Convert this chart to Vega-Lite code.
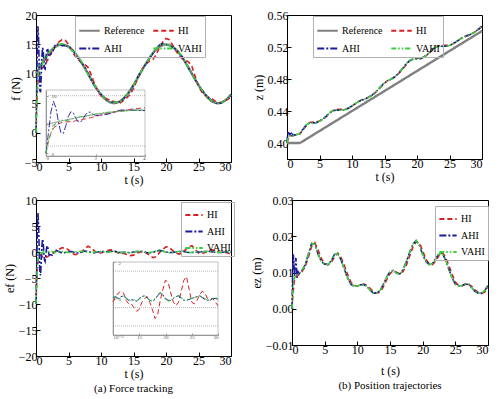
{
"$schema":"https://vega.github.io/schema/vega-lite/v6.json",
"padding":{"left":2,"top":8,"right":5,"bottom":5},
"config":{
 "font":"Liberation Serif",
 "view":{"stroke":"black","strokeWidth":1},
 "axis":{"grid":false,"labelFont":"Liberation Serif","titleFont":"Liberation Serif","labelFontSize":12,"titleFontSize":12,"titleFontWeight":"normal","labelColor":"black","titleColor":"black","domainColor":"black","tickColor":"black","tickSize":-4,"labelPadding":3,"titlePadding":2},
 "legend":{"labelFont":"Liberation Serif","labelFontSize":10,"labelColor":"black","symbolStrokeWidth":1.8,"symbolType":"stroke"},
 "title":{"font":"Liberation Serif","fontWeight":"normal","fontSize":11,"color":"black"}
},
"datasets":{
 "force":[
  {"t":0,"Reference":10,"HI":0,"AHI":0,"VAHI":0},
  {"t":0.1,"Reference":10.20,"HI":4.20,"AHI":7.20,"VAHI":4.20},
  {"t":0.2,"Reference":10.39,"HI":6.89,"AHI":14.39,"VAHI":7.39},
  {"t":0.3,"Reference":10.59,"HI":8.59,"AHI":18.09,"VAHI":9.39},
  {"t":0.4,"Reference":10.78,"HI":9.58,"AHI":15.78,"VAHI":10.48},
  {"t":0.5,"Reference":10.98,"HI":10.18,"AHI":10.98,"VAHI":11.18},
  {"t":0.6,"Reference":11.17,"HI":10.57,"AHI":7.17,"VAHI":11.47},
  {"t":0.7,"Reference":11.36,"HI":10.76,"AHI":6.86,"VAHI":11.46},
  {"t":0.8,"Reference":11.55,"HI":10.85,"AHI":9.55,"VAHI":11.35},
  {"t":0.9,"Reference":11.73,"HI":10.93,"AHI":12.73,"VAHI":11.43},
  {"t":1.0,"Reference":11.91,"HI":11.01,"AHI":14.41,"VAHI":11.71},
  {"t":1.1,"Reference":12.09,"HI":11.09,"AHI":14.09,"VAHI":12.09},
  {"t":1.2,"Reference":12.27,"HI":11.27,"AHI":12.27,"VAHI":12.47},
  {"t":1.3,"Reference":12.44,"HI":11.34,"AHI":10.94,"VAHI":12.64},
  {"t":1.4,"Reference":12.61,"HI":11.51,"AHI":10.81,"VAHI":12.71},
  {"t":1.5,"Reference":12.78,"HI":11.78,"AHI":11.98,"VAHI":12.68},
  {"t":1.6,"Reference":12.94,"HI":11.94,"AHI":13.44,"VAHI":12.74},
  {"t":1.7,"Reference":13.10,"HI":12.20,"AHI":14.30,"VAHI":13.00},
  {"t":1.8,"Reference":13.25,"HI":12.35,"AHI":14.25,"VAHI":13.25},
  {"t":1.9,"Reference":13.39,"HI":12.59,"AHI":13.59,"VAHI":13.49},
  {"t":2.0,"Reference":13.54,"HI":12.84,"AHI":13.04,"VAHI":13.64},
  {"t":2.5,"Reference":14.16,"HI":13.86,"AHI":13.56,"VAHI":14.26},
  {"t":3,"Reference":14.62,"HI":14.72,"AHI":15.02,"VAHI":14.52},
  {"t":3.5,"Reference":14.90,"HI":15.40,"AHI":15.00,"VAHI":14.95},
  {"t":4,"Reference":15.00,"HI":15.80,"AHI":14.80,"VAHI":15.10},
  {"t":4.5,"Reference":14.90,"HI":15.70,"AHI":14.80,"VAHI":14.90},
  {"t":5,"Reference":14.62,"HI":15.02,"AHI":14.62,"VAHI":14.52},
  {"t":5.5,"Reference":14.16,"HI":13.96,"AHI":14.26,"VAHI":14.01},
  {"t":6,"Reference":13.54,"HI":13.04,"AHI":13.44,"VAHI":13.54},
  {"t":6.5,"Reference":12.78,"HI":12.38,"AHI":12.58,"VAHI":12.88},
  {"t":7,"Reference":11.91,"HI":11.91,"AHI":11.91,"VAHI":12.06},
  {"t":7.5,"Reference":10.98,"HI":11.58,"AHI":11.18,"VAHI":11.03},
  {"t":8,"Reference":10.00,"HI":11.10,"AHI":10.10,"VAHI":9.95},
  {"t":8.5,"Reference":9.02,"HI":9.82,"AHI":8.92,"VAHI":8.92},
  {"t":9,"Reference":8.09,"HI":8.29,"AHI":7.94,"VAHI":8.09},
  {"t":9.5,"Reference":7.22,"HI":7.02,"AHI":7.22,"VAHI":7.27},
  {"t":10,"Reference":6.46,"HI":6.26,"AHI":6.51,"VAHI":6.56},
  {"t":10.5,"Reference":5.84,"HI":5.94,"AHI":5.94,"VAHI":5.89},
  {"t":11,"Reference":5.38,"HI":5.68,"AHI":5.38,"VAHI":5.33},
  {"t":11.5,"Reference":5.10,"HI":5.50,"AHI":5.20,"VAHI":5.15},
  {"t":12,"Reference":5.00,"HI":5.30,"AHI":5.15,"VAHI":5.15},
  {"t":12.5,"Reference":5.10,"HI":5.00,"AHI":5.10,"VAHI":5.15},
  {"t":13,"Reference":5.38,"HI":5.08,"AHI":5.28,"VAHI":5.28},
  {"t":13.5,"Reference":5.84,"HI":5.54,"AHI":5.79,"VAHI":5.74},
  {"t":14,"Reference":6.46,"HI":5.96,"AHI":6.36,"VAHI":6.41},
  {"t":14.5,"Reference":7.22,"HI":6.52,"AHI":7.07,"VAHI":7.07},
  {"t":15,"Reference":8.09,"HI":7.49,"AHI":8.09,"VAHI":8.04},
  {"t":15.5,"Reference":9.02,"HI":8.82,"AHI":9.12,"VAHI":9.12},
  {"t":16,"Reference":10.00,"HI":10.00,"AHI":10.15,"VAHI":10.15},
  {"t":16.5,"Reference":10.98,"HI":11.08,"AHI":11.03,"VAHI":10.98},
  {"t":17,"Reference":11.91,"HI":11.71,"AHI":11.81,"VAHI":11.81},
  {"t":17.5,"Reference":12.78,"HI":12.18,"AHI":12.63,"VAHI":12.68},
  {"t":18,"Reference":13.54,"HI":12.44,"AHI":13.49,"VAHI":13.54},
  {"t":18.5,"Reference":14.16,"HI":13.26,"AHI":14.31,"VAHI":14.36},
  {"t":19,"Reference":14.62,"HI":14.52,"AHI":14.92,"VAHI":14.97},
  {"t":19.5,"Reference":14.90,"HI":15.40,"AHI":15.10,"VAHI":15.05},
  {"t":20,"Reference":15.00,"HI":16.00,"AHI":15.00,"VAHI":14.95},
  {"t":20.5,"Reference":14.90,"HI":15.80,"AHI":14.80,"VAHI":14.75},
  {"t":21,"Reference":14.62,"HI":14.92,"AHI":14.52,"VAHI":14.52},
  {"t":21.5,"Reference":14.16,"HI":13.96,"AHI":14.16,"VAHI":14.21},
  {"t":22,"Reference":13.54,"HI":13.14,"AHI":13.64,"VAHI":13.64},
  {"t":22.5,"Reference":12.78,"HI":12.58,"AHI":12.93,"VAHI":12.98},
  {"t":23,"Reference":11.91,"HI":12.31,"AHI":11.91,"VAHI":11.96},
  {"t":23.5,"Reference":10.98,"HI":11.98,"AHI":10.88,"VAHI":10.88},
  {"t":24,"Reference":10.00,"HI":11.20,"AHI":9.90,"VAHI":9.90},
  {"t":24.5,"Reference":9.02,"HI":9.52,"AHI":8.97,"VAHI":9.02},
  {"t":25,"Reference":8.09,"HI":7.89,"AHI":8.09,"VAHI":8.09},
  {"t":25.5,"Reference":7.22,"HI":6.92,"AHI":7.27,"VAHI":7.27},
  {"t":26,"Reference":6.46,"HI":6.36,"AHI":6.56,"VAHI":6.56},
  {"t":26.5,"Reference":5.84,"HI":6.04,"AHI":5.99,"VAHI":5.99},
  {"t":27,"Reference":5.38,"HI":5.78,"AHI":5.43,"VAHI":5.48},
  {"t":27.5,"Reference":5.10,"HI":5.40,"AHI":5.05,"VAHI":5.10},
  {"t":28,"Reference":5.00,"HI":5.00,"AHI":4.90,"VAHI":4.90},
  {"t":28.5,"Reference":5.10,"HI":5.00,"AHI":5.05,"VAHI":5.00},
  {"t":29,"Reference":5.38,"HI":5.38,"AHI":5.38,"VAHI":5.38},
  {"t":29.5,"Reference":5.84,"HI":5.64,"AHI":5.84,"VAHI":5.89},
  {"t":30,"Reference":6.46,"HI":6.06,"AHI":6.41,"VAHI":6.46}
 ],
 "forceErr":[
  {"t":0,"HI":-10,"AHI":-10,"VAHI":-10},
  {"t":0.1,"HI":-6,"AHI":-3,"VAHI":-6},
  {"t":0.2,"HI":-3.5,"AHI":4,"VAHI":-3},
  {"t":0.3,"HI":-2,"AHI":7.5,"VAHI":-1.2},
  {"t":0.4,"HI":-1.2,"AHI":5,"VAHI":-0.3},
  {"t":0.5,"HI":-0.8,"AHI":0,"VAHI":0.2},
  {"t":0.6,"HI":-0.6,"AHI":-4,"VAHI":0.3},
  {"t":0.7,"HI":-0.6,"AHI":-4.5,"VAHI":0.1},
  {"t":0.8,"HI":-0.7,"AHI":-2,"VAHI":-0.2},
  {"t":0.9,"HI":-0.8,"AHI":1,"VAHI":-0.3},
  {"t":1.0,"HI":-0.9,"AHI":2.5,"VAHI":-0.2},
  {"t":1.1,"HI":-1.0,"AHI":2,"VAHI":0},
  {"t":1.2,"HI":-1.0,"AHI":0,"VAHI":0.2},
  {"t":1.3,"HI":-1.1,"AHI":-1.5,"VAHI":0.2},
  {"t":1.4,"HI":-1.1,"AHI":-1.8,"VAHI":0.1},
  {"t":1.5,"HI":-1.0,"AHI":-0.8,"VAHI":-0.1},
  {"t":1.6,"HI":-1.0,"AHI":0.5,"VAHI":-0.2},
  {"t":1.7,"HI":-0.9,"AHI":1.2,"VAHI":-0.1},
  {"t":1.8,"HI":-0.9,"AHI":1.0,"VAHI":0},
  {"t":1.9,"HI":-0.8,"AHI":0.2,"VAHI":0.1},
  {"t":2.0,"HI":-0.7,"AHI":-0.5,"VAHI":0.1},
  {"t":2.5,"HI":-0.3,"AHI":-0.6,"VAHI":0.1},
  {"t":3,"HI":0.1,"AHI":0.4,"VAHI":-0.1},
  {"t":3.5,"HI":0.5,"AHI":0.1,"VAHI":0.05},
  {"t":4,"HI":0.8,"AHI":-0.2,"VAHI":0.1},
  {"t":4.5,"HI":0.8,"AHI":-0.1,"VAHI":0},
  {"t":5,"HI":0.4,"AHI":0,"VAHI":-0.1},
  {"t":5.5,"HI":-0.2,"AHI":0.1,"VAHI":-0.15},
  {"t":6,"HI":-0.5,"AHI":-0.1,"VAHI":0},
  {"t":6.5,"HI":-0.4,"AHI":-0.2,"VAHI":0.1},
  {"t":7,"HI":0,"AHI":0,"VAHI":0.15},
  {"t":7.5,"HI":0.6,"AHI":0.2,"VAHI":0.05},
  {"t":8,"HI":1.1,"AHI":0.1,"VAHI":-0.05},
  {"t":8.5,"HI":0.8,"AHI":-0.1,"VAHI":-0.1},
  {"t":9,"HI":0.2,"AHI":-0.15,"VAHI":0},
  {"t":9.5,"HI":-0.2,"AHI":0,"VAHI":0.05},
  {"t":10,"HI":-0.2,"AHI":0.05,"VAHI":0.1},
  {"t":10.5,"HI":0.1,"AHI":0.1,"VAHI":0.05},
  {"t":11,"HI":0.3,"AHI":0,"VAHI":-0.05},
  {"t":11.5,"HI":0.4,"AHI":0.1,"VAHI":0.05},
  {"t":12,"HI":0.3,"AHI":0.15,"VAHI":0.15},
  {"t":12.5,"HI":-0.1,"AHI":0,"VAHI":0.05},
  {"t":13,"HI":-0.3,"AHI":-0.1,"VAHI":-0.1},
  {"t":13.5,"HI":-0.3,"AHI":-0.05,"VAHI":-0.1},
  {"t":14,"HI":-0.5,"AHI":-0.1,"VAHI":-0.05},
  {"t":14.5,"HI":-0.7,"AHI":-0.15,"VAHI":-0.15},
  {"t":15,"HI":-0.6,"AHI":0,"VAHI":-0.05},
  {"t":15.5,"HI":-0.2,"AHI":0.1,"VAHI":0.1},
  {"t":16,"HI":0,"AHI":0.15,"VAHI":0.15},
  {"t":16.5,"HI":0.1,"AHI":0.05,"VAHI":0},
  {"t":17,"HI":-0.2,"AHI":-0.1,"VAHI":-0.1},
  {"t":17.5,"HI":-0.6,"AHI":-0.15,"VAHI":-0.1},
  {"t":18,"HI":-1.1,"AHI":-0.05,"VAHI":0},
  {"t":18.5,"HI":-0.9,"AHI":0.15,"VAHI":0.2},
  {"t":19,"HI":-0.1,"AHI":0.3,"VAHI":0.35},
  {"t":19.5,"HI":0.5,"AHI":0.2,"VAHI":0.15},
  {"t":20,"HI":1.0,"AHI":0,"VAHI":-0.05},
  {"t":20.5,"HI":0.9,"AHI":-0.1,"VAHI":-0.15},
  {"t":21,"HI":0.3,"AHI":-0.1,"VAHI":-0.1},
  {"t":21.5,"HI":-0.2,"AHI":0,"VAHI":0.05},
  {"t":22,"HI":-0.4,"AHI":0.1,"VAHI":0.1},
  {"t":22.5,"HI":-0.2,"AHI":0.15,"VAHI":0.2},
  {"t":23,"HI":0.4,"AHI":0,"VAHI":0.05},
  {"t":23.5,"HI":1.0,"AHI":-0.1,"VAHI":-0.1},
  {"t":24,"HI":1.2,"AHI":-0.1,"VAHI":-0.1},
  {"t":24.5,"HI":0.5,"AHI":-0.05,"VAHI":0},
  {"t":25,"HI":-0.2,"AHI":0,"VAHI":0},
  {"t":25.5,"HI":-0.3,"AHI":0.05,"VAHI":0.05},
  {"t":26,"HI":-0.1,"AHI":0.1,"VAHI":0.1},
  {"t":26.5,"HI":0.2,"AHI":0.15,"VAHI":0.15},
  {"t":27,"HI":0.4,"AHI":0.05,"VAHI":0.1},
  {"t":27.5,"HI":0.3,"AHI":-0.05,"VAHI":0},
  {"t":28,"HI":0,"AHI":-0.1,"VAHI":-0.1},
  {"t":28.5,"HI":-0.1,"AHI":-0.05,"VAHI":-0.1},
  {"t":29,"HI":0,"AHI":0,"VAHI":0},
  {"t":29.5,"HI":-0.2,"AHI":0,"VAHI":0.05},
  {"t":30,"HI":-0.4,"AHI":-0.05,"VAHI":0}
 ],
 "pos":[
  {"t":0,"Reference":0.40,"HI":0.400,"AHI":0.400,"VAHI":0.400},
  {"t":0.1,"Reference":0.40,"HI":0.403,"AHI":0.410,"VAHI":0.404},
  {"t":0.2,"Reference":0.40,"HI":0.405,"AHI":0.415,"VAHI":0.407},
  {"t":0.3,"Reference":0.40,"HI":0.407,"AHI":0.412,"VAHI":0.408},
  {"t":0.4,"Reference":0.40,"HI":0.408,"AHI":0.409,"VAHI":0.4085},
  {"t":0.5,"Reference":0.40,"HI":0.4085,"AHI":0.413,"VAHI":0.409},
  {"t":0.6,"Reference":0.40,"HI":0.4088,"AHI":0.414,"VAHI":0.409},
  {"t":0.7,"Reference":0.40,"HI":0.409,"AHI":0.411,"VAHI":0.4092},
  {"t":0.8,"Reference":0.40,"HI":0.409,"AHI":0.4085,"VAHI":0.4093},
  {"t":0.9,"Reference":0.40,"HI":0.4092,"AHI":0.4105,"VAHI":0.4094},
  {"t":1.0,"Reference":0.40,"HI":0.4093,"AHI":0.4095,"VAHI":0.4095},
  {"t":1.5,"Reference":0.40,"HI":0.4102,"AHI":0.4105,"VAHI":0.4105},
  {"t":2,"Reference":0.40,"HI":0.4115,"AHI":0.412,"VAHI":0.412},
  {"t":2.5,"Reference":0.4025,"HI":0.4167,"AHI":0.4175,"VAHI":0.4175},
  {"t":3,"Reference":0.405,"HI":0.4222,"AHI":0.423,"VAHI":0.423},
  {"t":3.5,"Reference":0.4075,"HI":0.4257,"AHI":0.4253,"VAHI":0.4253},
  {"t":4,"Reference":0.41,"HI":0.4262,"AHI":0.425,"VAHI":0.425},
  {"t":4.5,"Reference":0.4125,"HI":0.4263,"AHI":0.4255,"VAHI":0.4255},
  {"t":5,"Reference":0.415,"HI":0.4275,"AHI":0.4273,"VAHI":0.4273},
  {"t":5.5,"Reference":0.4175,"HI":0.4296,"AHI":0.4297,"VAHI":0.4297},
  {"t":6,"Reference":0.42,"HI":0.4327,"AHI":0.4332,"VAHI":0.4332},
  {"t":6.5,"Reference":0.4225,"HI":0.4368,"AHI":0.4375,"VAHI":0.4375},
  {"t":7,"Reference":0.425,"HI":0.4404,"AHI":0.4402,"VAHI":0.4402},
  {"t":7.5,"Reference":0.4275,"HI":0.4417,"AHI":0.441,"VAHI":0.441},
  {"t":8,"Reference":0.43,"HI":0.442,"AHI":0.441,"VAHI":0.441},
  {"t":8.5,"Reference":0.4325,"HI":0.442,"AHI":0.441,"VAHI":0.441},
  {"t":9,"Reference":0.435,"HI":0.4424,"AHI":0.4418,"VAHI":0.4418},
  {"t":9.5,"Reference":0.4375,"HI":0.4439,"AHI":0.4437,"VAHI":0.4437},
  {"t":10,"Reference":0.44,"HI":0.4463,"AHI":0.4463,"VAHI":0.4463},
  {"t":10.5,"Reference":0.4425,"HI":0.449,"AHI":0.4491,"VAHI":0.4491},
  {"t":11,"Reference":0.445,"HI":0.4518,"AHI":0.4517,"VAHI":0.4517},
  {"t":11.5,"Reference":0.4475,"HI":0.4539,"AHI":0.4536,"VAHI":0.4536},
  {"t":12,"Reference":0.45,"HI":0.4555,"AHI":0.455,"VAHI":0.455},
  {"t":12.5,"Reference":0.4525,"HI":0.4571,"AHI":0.4568,"VAHI":0.4568},
  {"t":13,"Reference":0.455,"HI":0.4593,"AHI":0.4593,"VAHI":0.4593},
  {"t":13.5,"Reference":0.4575,"HI":0.4622,"AHI":0.4626,"VAHI":0.4626},
  {"t":14,"Reference":0.46,"HI":0.4661,"AHI":0.4668,"VAHI":0.4668},
  {"t":14.5,"Reference":0.4625,"HI":0.4705,"AHI":0.4713,"VAHI":0.4713},
  {"t":15,"Reference":0.465,"HI":0.4747,"AHI":0.4752,"VAHI":0.4752},
  {"t":15.5,"Reference":0.4675,"HI":0.478,"AHI":0.4781,"VAHI":0.4781},
  {"t":16,"Reference":0.47,"HI":0.4801,"AHI":0.4798,"VAHI":0.4798},
  {"t":16.5,"Reference":0.4725,"HI":0.4821,"AHI":0.4821,"VAHI":0.4821},
  {"t":17,"Reference":0.475,"HI":0.4853,"AHI":0.4858,"VAHI":0.4858},
  {"t":17.5,"Reference":0.4775,"HI":0.4895,"AHI":0.4905,"VAHI":0.4905},
  {"t":18,"Reference":0.48,"HI":0.4945,"AHI":0.4955,"VAHI":0.4955},
  {"t":18.5,"Reference":0.4825,"HI":0.4995,"AHI":0.5003,"VAHI":0.5003},
  {"t":19,"Reference":0.485,"HI":0.5035,"AHI":0.5038,"VAHI":0.5038},
  {"t":19.5,"Reference":0.4875,"HI":0.5057,"AHI":0.505,"VAHI":0.505},
  {"t":20,"Reference":0.49,"HI":0.506,"AHI":0.505,"VAHI":0.505},
  {"t":20.5,"Reference":0.4925,"HI":0.5062,"AHI":0.5055,"VAHI":0.5055},
  {"t":21,"Reference":0.495,"HI":0.5074,"AHI":0.5072,"VAHI":0.5072},
  {"t":21.5,"Reference":0.4975,"HI":0.5097,"AHI":0.51,"VAHI":0.51},
  {"t":22,"Reference":0.50,"HI":0.5132,"AHI":0.5138,"VAHI":0.5138},
  {"t":22.5,"Reference":0.5025,"HI":0.5172,"AHI":0.5177,"VAHI":0.5177},
  {"t":23,"Reference":0.505,"HI":0.5205,"AHI":0.5203,"VAHI":0.5203},
  {"t":23.5,"Reference":0.5075,"HI":0.5218,"AHI":0.521,"VAHI":0.521},
  {"t":24,"Reference":0.51,"HI":0.522,"AHI":0.521,"VAHI":0.521},
  {"t":24.5,"Reference":0.5125,"HI":0.522,"AHI":0.521,"VAHI":0.521},
  {"t":25,"Reference":0.515,"HI":0.5224,"AHI":0.5218,"VAHI":0.5218},
  {"t":25.5,"Reference":0.5175,"HI":0.5239,"AHI":0.5238,"VAHI":0.5238},
  {"t":26,"Reference":0.52,"HI":0.5263,"AHI":0.5264,"VAHI":0.5264},
  {"t":26.5,"Reference":0.5225,"HI":0.5292,"AHI":0.5293,"VAHI":0.5293},
  {"t":27,"Reference":0.525,"HI":0.5318,"AHI":0.5317,"VAHI":0.5317},
  {"t":27.5,"Reference":0.5275,"HI":0.5337,"AHI":0.5333,"VAHI":0.5333},
  {"t":28,"Reference":0.53,"HI":0.5352,"AHI":0.5348,"VAHI":0.5348},
  {"t":28.5,"Reference":0.5325,"HI":0.537,"AHI":0.5368,"VAHI":0.5368},
  {"t":29,"Reference":0.535,"HI":0.5392,"AHI":0.5393,"VAHI":0.5393},
  {"t":29.5,"Reference":0.5375,"HI":0.5421,"AHI":0.5425,"VAHI":0.5425},
  {"t":30,"Reference":0.54,"HI":0.5458,"AHI":0.5465,"VAHI":0.5465}
 ],
 "posErr":[
  {"t":0,"HI":0,"AHI":0,"VAHI":0},
  {"t":0.1,"HI":0.003,"AHI":0.010,"VAHI":0.004},
  {"t":0.2,"HI":0.005,"AHI":0.015,"VAHI":0.007},
  {"t":0.3,"HI":0.007,"AHI":0.012,"VAHI":0.008},
  {"t":0.4,"HI":0.008,"AHI":0.009,"VAHI":0.0085},
  {"t":0.5,"HI":0.0085,"AHI":0.013,"VAHI":0.009},
  {"t":0.6,"HI":0.0088,"AHI":0.014,"VAHI":0.009},
  {"t":0.7,"HI":0.009,"AHI":0.011,"VAHI":0.0092},
  {"t":0.8,"HI":0.009,"AHI":0.0085,"VAHI":0.0093},
  {"t":0.9,"HI":0.0092,"AHI":0.0105,"VAHI":0.0094},
  {"t":1.0,"HI":0.0093,"AHI":0.0095,"VAHI":0.0095},
  {"t":1.5,"HI":0.0102,"AHI":0.0105,"VAHI":0.0105},
  {"t":2,"HI":0.0115,"AHI":0.012,"VAHI":0.012},
  {"t":2.5,"HI":0.0142,"AHI":0.015,"VAHI":0.015},
  {"t":3,"HI":0.0172,"AHI":0.018,"VAHI":0.018},
  {"t":3.5,"HI":0.0182,"AHI":0.0178,"VAHI":0.0178},
  {"t":4,"HI":0.0162,"AHI":0.015,"VAHI":0.015},
  {"t":4.5,"HI":0.0138,"AHI":0.013,"VAHI":0.013},
  {"t":5,"HI":0.0125,"AHI":0.0123,"VAHI":0.0123},
  {"t":5.5,"HI":0.0121,"AHI":0.0122,"VAHI":0.0122},
  {"t":6,"HI":0.0127,"AHI":0.0132,"VAHI":0.0132},
  {"t":6.5,"HI":0.0143,"AHI":0.0150,"VAHI":0.0150},
  {"t":7,"HI":0.0154,"AHI":0.0152,"VAHI":0.0152},
  {"t":7.5,"HI":0.0142,"AHI":0.0135,"VAHI":0.0135},
  {"t":8,"HI":0.0120,"AHI":0.0110,"VAHI":0.0110},
  {"t":8.5,"HI":0.0095,"AHI":0.0085,"VAHI":0.0085},
  {"t":9,"HI":0.0074,"AHI":0.0068,"VAHI":0.0068},
  {"t":9.5,"HI":0.0064,"AHI":0.0062,"VAHI":0.0062},
  {"t":10,"HI":0.0063,"AHI":0.0063,"VAHI":0.0063},
  {"t":10.5,"HI":0.0065,"AHI":0.0066,"VAHI":0.0066},
  {"t":11,"HI":0.0068,"AHI":0.0067,"VAHI":0.0067},
  {"t":11.5,"HI":0.0064,"AHI":0.0061,"VAHI":0.0061},
  {"t":12,"HI":0.0055,"AHI":0.0050,"VAHI":0.0050},
  {"t":12.5,"HI":0.0046,"AHI":0.0043,"VAHI":0.0043},
  {"t":13,"HI":0.0043,"AHI":0.0043,"VAHI":0.0043},
  {"t":13.5,"HI":0.0047,"AHI":0.0051,"VAHI":0.0051},
  {"t":14,"HI":0.0061,"AHI":0.0068,"VAHI":0.0068},
  {"t":14.5,"HI":0.0080,"AHI":0.0088,"VAHI":0.0088},
  {"t":15,"HI":0.0097,"AHI":0.0102,"VAHI":0.0102},
  {"t":15.5,"HI":0.0105,"AHI":0.0106,"VAHI":0.0106},
  {"t":16,"HI":0.0101,"AHI":0.0098,"VAHI":0.0098},
  {"t":16.5,"HI":0.0096,"AHI":0.0096,"VAHI":0.0096},
  {"t":17,"HI":0.0103,"AHI":0.0108,"VAHI":0.0108},
  {"t":17.5,"HI":0.0120,"AHI":0.0130,"VAHI":0.0130},
  {"t":18,"HI":0.0145,"AHI":0.0155,"VAHI":0.0155},
  {"t":18.5,"HI":0.0170,"AHI":0.0178,"VAHI":0.0178},
  {"t":19,"HI":0.0185,"AHI":0.0188,"VAHI":0.0188},
  {"t":19.5,"HI":0.0182,"AHI":0.0175,"VAHI":0.0175},
  {"t":20,"HI":0.0160,"AHI":0.0150,"VAHI":0.0150},
  {"t":20.5,"HI":0.0137,"AHI":0.0130,"VAHI":0.0130},
  {"t":21,"HI":0.0124,"AHI":0.0122,"VAHI":0.0122},
  {"t":21.5,"HI":0.0122,"AHI":0.0125,"VAHI":0.0125},
  {"t":22,"HI":0.0132,"AHI":0.0138,"VAHI":0.0138},
  {"t":22.5,"HI":0.0147,"AHI":0.0152,"VAHI":0.0152},
  {"t":23,"HI":0.0155,"AHI":0.0153,"VAHI":0.0153},
  {"t":23.5,"HI":0.0143,"AHI":0.0135,"VAHI":0.0135},
  {"t":24,"HI":0.0120,"AHI":0.0110,"VAHI":0.0110},
  {"t":24.5,"HI":0.0095,"AHI":0.0085,"VAHI":0.0085},
  {"t":25,"HI":0.0074,"AHI":0.0068,"VAHI":0.0068},
  {"t":25.5,"HI":0.0064,"AHI":0.0063,"VAHI":0.0063},
  {"t":26,"HI":0.0063,"AHI":0.0064,"VAHI":0.0064},
  {"t":26.5,"HI":0.0067,"AHI":0.0068,"VAHI":0.0068},
  {"t":27,"HI":0.0068,"AHI":0.0067,"VAHI":0.0067},
  {"t":27.5,"HI":0.0062,"AHI":0.0058,"VAHI":0.0058},
  {"t":28,"HI":0.0052,"AHI":0.0048,"VAHI":0.0048},
  {"t":28.5,"HI":0.0045,"AHI":0.0043,"VAHI":0.0043},
  {"t":29,"HI":0.0042,"AHI":0.0043,"VAHI":0.0043},
  {"t":29.5,"HI":0.0046,"AHI":0.0050,"VAHI":0.0050},
  {"t":30,"HI":0.0058,"AHI":0.0065,"VAHI":0.0065}
 ]
},
"resolve":{"scale":{"color":"independent","strokeDash":"independent"},"legend":{"color":"independent","strokeDash":"independent"}},
"spacing":7,
"vconcat":[
 {
  "spacing":14,
  "resolve":{"scale":{"color":"independent","strokeDash":"independent"},"legend":{"color":"independent","strokeDash":"independent"}},
  "hconcat":[
   {
    "width":195,"height":147,
    "resolve":{"scale":{"x":"independent","y":"independent"}},
    "layer":[
     {
      "data":{"name":"force"},
      "transform":[{"fold":["Reference","HI","AHI","VAHI"],"as":["series","value"]}],
      "encoding":{
       "x":{"field":"t","type":"quantitative","scale":{"domain":[0,30],"nice":false},"axis":{"values":[0,5,10,15,20,25,30],"title":"t (s)"}},
       "y":{"field":"value","type":"quantitative","scale":{"domain":[-5,20],"nice":false,"zero":false},"axis":{"values":[-5,0,5,10,15,20],"title":"f (N)"}},
       "color":{"field":"series","type":"nominal","scale":{"domain":["Reference","HI","AHI","VAHI"],"range":["#808080","#d62020","#1c1c9c","#38d038"]},"legend":{"title":null,"orient":"none","legendX":39,"legendY":1,"columns":2,"direction":"horizontal","symbolSize":420,"columnPadding":4,"rowPadding":1,"padding":3,"strokeColor":"#b0b0b0","labelOffset":3}},
       "strokeDash":{"field":"series","type":"nominal","scale":{"domain":["Reference","HI","AHI","VAHI"],"range":[[1,0],[5,3],[7,2,2,2],[5,2,1.5,2,1.5,2]]},"legend":{"title":null,"orient":"none","legendX":39,"legendY":1,"columns":2,"direction":"horizontal","symbolSize":420,"columnPadding":4,"rowPadding":1,"padding":3,"strokeColor":"#b0b0b0","labelOffset":3}}
      },
      "layer":[
       {"transform":[{"filter":"datum.series === 'Reference'"}],"mark":{"type":"line","strokeWidth":2.4}},
       {"transform":[{"filter":"datum.series !== 'Reference'"}],"mark":{"type":"line","strokeWidth":1.6}}
      ]
     },
     {
      "layer":[
       {
        "data":{"values":[{}]},
        "mark":{"type":"rect","fillOpacity":0,"stroke":"#999999","strokeWidth":0.6},
        "encoding":{
         "x":{"datum":0,"type":"quantitative","scale":{"domain":[0,4],"range":[10,109],"nice":false,"zero":false},"axis":{"orient":"bottom","offset":-6,"values":[0,2,4],"title":null,"labelFontSize":5,"tickSize":-2,"labelPadding":1,"domainColor":"#999999","tickColor":"#999999","labelColor":"#555555"}},
         "x2":{"datum":4},
         "y":{"datum":-1,"type":"quantitative","scale":{"domain":[-1,22],"range":[141,75],"nice":false,"zero":false},"axis":{"orient":"left","offset":-10,"values":[0,5,10,15,20],"title":null,"labelFontSize":5,"tickSize":-2,"labelPadding":-3,"labelAlign":"left","domainColor":"#999999","tickColor":"#999999","labelColor":"#555555"}},
         "y2":{"datum":22}
        }
       },
       {
        "data":{"values":[{"g":20},{"g":2.5}]},
        "mark":{"type":"rule","strokeDash":[1,1],"color":"#888888","strokeWidth":0.6},
        "encoding":{"y":{"field":"g","type":"quantitative"},"x":{"datum":0,"type":"quantitative"},"x2":{"datum":4}}
       },
       {
        "data":{"name":"force"},
        "transform":[{"filter":"datum.t <= 4"},{"fold":["Reference","HI","AHI","VAHI"],"as":["series","value"]}],
        "mark":{"type":"line","strokeWidth":0.9},
        "encoding":{
         "x":{"field":"t","type":"quantitative"},
         "y":{"field":"value","type":"quantitative"},
         "color":{"field":"series","type":"nominal"},
         "strokeDash":{"field":"series","type":"nominal"}
        }
       }
      ]
     }
    ]
   },
   {
    "width":195,"height":144,
    "data":{"name":"pos"},
    "transform":[{"fold":["Reference","HI","AHI","VAHI"],"as":["series","value"]}],
    "encoding":{
     "x":{"field":"t","type":"quantitative","scale":{"domain":[0,30],"nice":false},"axis":{"values":[0,5,10,15,20,25,30],"title":"t (s)"}},
     "y":{"field":"value","type":"quantitative","scale":{"domain":[0.38,0.56],"nice":false,"zero":false},"axis":{"values":[0.40,0.44,0.48,0.52,0.56],"format":".2f","title":"z (m)"}},
     "color":{"field":"series","type":"nominal","scale":{"domain":["Reference","HI","AHI","VAHI"],"range":["#808080","#d62020","#1c1c9c","#38d038"]},"legend":{"title":null,"orient":"none","legendX":26,"legendY":1,"columns":2,"direction":"horizontal","symbolSize":420,"columnPadding":4,"rowPadding":1,"padding":3,"strokeColor":"#b0b0b0","labelOffset":3}},
     "strokeDash":{"field":"series","type":"nominal","scale":{"domain":["Reference","HI","AHI","VAHI"],"range":[[1,0],[5,3],[7,2,2,2],[5,2,1.5,2,1.5,2]]},"legend":{"title":null,"orient":"none","legendX":26,"legendY":1,"columns":2,"direction":"horizontal","symbolSize":420,"columnPadding":4,"rowPadding":1,"padding":3,"strokeColor":"#b0b0b0","labelOffset":3}}
    },
    "layer":[
     {"transform":[{"filter":"datum.series === 'Reference'"}],"mark":{"type":"line","strokeWidth":2.4}},
     {"transform":[{"filter":"datum.series !== 'Reference'"}],"mark":{"type":"line","strokeWidth":1.6}}
    ]
   }
  ]
 },
 {
  "spacing":14,
  "resolve":{"scale":{"color":"independent","strokeDash":"independent"},"legend":{"color":"independent","strokeDash":"independent"}},
  "hconcat":[
   {
    "width":195,"height":156,
    "title":{"text":"(a) Force tracking","orient":"bottom","offset":4},
    "resolve":{"scale":{"x":"independent","y":"independent"}},
    "layer":[
     {
      "data":{"name":"forceErr"},
      "transform":[{"fold":["HI","AHI","VAHI"],"as":["series","value"]}],
      "mark":{"type":"line","strokeWidth":1.6},
      "encoding":{
       "x":{"field":"t","type":"quantitative","scale":{"domain":[0,30],"nice":false},"axis":{"values":[0,5,10,15,20,25,30],"title":"t (s)"}},
       "y":{"field":"value","type":"quantitative","scale":{"domain":[-20,10],"nice":false,"zero":false},"axis":{"values":[-20,-15,-10,-5,0,5,10],"title":"ef (N)"}},
       "color":{"field":"series","type":"nominal","scale":{"domain":["HI","AHI","VAHI"],"range":["#d62020","#1c1c9c","#38d038"]},"legend":{"title":null,"orient":"none","legendX":145,"legendY":2,"symbolSize":300,"rowPadding":1.5,"padding":3,"strokeColor":"#b0b0b0","labelOffset":3}},
       "strokeDash":{"field":"series","type":"nominal","scale":{"domain":["HI","AHI","VAHI"],"range":[[5,3],[7,2,2,2],[5,2,1.5,2,1.5,2]]},"legend":{"title":null,"orient":"none","legendX":145,"legendY":2,"symbolSize":300,"rowPadding":1.5,"padding":3,"strokeColor":"#b0b0b0","labelOffset":3}}
      }
     },
     {
      "layer":[
       {
        "data":{"values":[{}]},
        "mark":{"type":"rect","fillOpacity":0,"stroke":"#999999","strokeWidth":0.6},
        "encoding":{
         "x":{"datum":10,"type":"quantitative","scale":{"domain":[10,30],"range":[77,182],"nice":false,"zero":false},"axis":{"orient":"bottom","offset":-21,"values":[10,15,20,25,30],"title":null,"labelFontSize":5,"tickSize":-2,"labelPadding":1,"domainColor":"#999999","tickColor":"#999999","labelColor":"#555555"}},
         "x2":{"datum":30},
         "y":{"datum":-2,"type":"quantitative","scale":{"domain":[-2,2],"range":[135,62],"nice":false,"zero":false},"axis":{"orient":"left","offset":-77,"values":[-2,-1,0,1,2],"title":null,"labelFontSize":5,"tickSize":-2,"labelPadding":-3,"labelAlign":"left","domainColor":"#999999","tickColor":"#999999","labelColor":"#555555"}},
         "y2":{"datum":2}
        }
       },
       {
        "data":{"values":[{"g":1.5},{"g":-0.5},{"g":-1.5}]},
        "mark":{"type":"rule","strokeDash":[1,1],"color":"#888888","strokeWidth":0.6},
        "encoding":{"y":{"field":"g","type":"quantitative"},"x":{"datum":10,"type":"quantitative"},"x2":{"datum":30}}
       },
       {
        "data":{"name":"forceErr"},
        "transform":[{"filter":"datum.t >= 10"},{"fold":["HI","AHI","VAHI"],"as":["series","value"]}],
        "mark":{"type":"line","strokeWidth":1},
        "encoding":{
         "x":{"field":"t","type":"quantitative"},
         "y":{"field":"value","type":"quantitative"},
         "color":{"field":"series","type":"nominal"},
         "strokeDash":{"field":"series","type":"nominal"}
        }
       }
      ]
     }
    ]
   },
   {
    "width":196,"height":145,
    "title":{"text":"(b) Position trajectories","orient":"bottom","offset":4},
    "data":{"name":"posErr"},
    "transform":[{"fold":["HI","AHI","VAHI"],"as":["series","value"]}],
    "mark":{"type":"line","strokeWidth":1.6},
    "encoding":{
     "x":{"field":"t","type":"quantitative","scale":{"domain":[0,30],"nice":false},"axis":{"values":[0,5,10,15,20,25,30],"title":"t (s)","titlePadding":10}},
     "y":{"field":"value","type":"quantitative","scale":{"domain":[-0.01,0.03],"nice":false,"zero":false},"axis":{"values":[-0.01,0,0.01,0.02,0.03],"format":".2f","title":"ez (m)"}},
     "color":{"field":"series","type":"nominal","scale":{"domain":["HI","AHI","VAHI"],"range":["#d62020","#1c1c9c","#38d038"]},"legend":{"title":null,"orient":"none","legendX":143,"legendY":6,"symbolSize":300,"rowPadding":1.5,"padding":3,"strokeColor":"#b0b0b0","labelOffset":3}},
     "strokeDash":{"field":"series","type":"nominal","scale":{"domain":["HI","AHI","VAHI"],"range":[[5,3],[7,2,2,2],[5,2,1.5,2,1.5,2]]},"legend":{"title":null,"orient":"none","legendX":143,"legendY":6,"symbolSize":300,"rowPadding":1.5,"padding":3,"strokeColor":"#b0b0b0","labelOffset":3}}
    }
   }
  ]
 }
]
}
